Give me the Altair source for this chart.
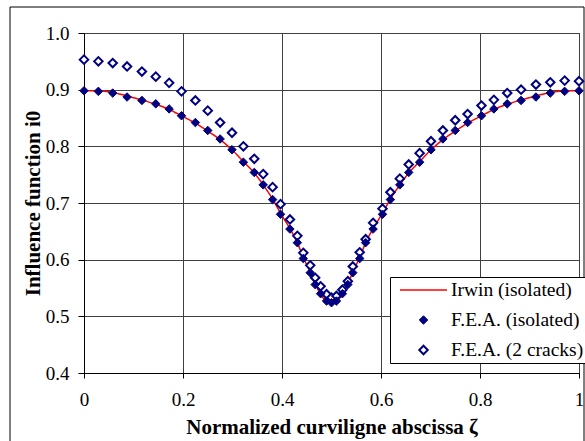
import altair as alt
import pandas as pd

# Normalized curvilinear abscissa (shared grid for all series)
zeta = [0.0, 0.029, 0.058, 0.087, 0.117, 0.145, 0.172, 0.197, 0.225, 0.25,
        0.275, 0.299, 0.322, 0.344, 0.362, 0.381, 0.397, 0.416, 0.431, 0.443,
        0.457, 0.467, 0.478, 0.490, 0.5, 0.510, 0.522, 0.533, 0.543, 0.557,
        0.569, 0.584, 0.603, 0.619, 0.638, 0.656, 0.678, 0.701, 0.725, 0.75,
        0.775, 0.803, 0.828, 0.855, 0.883, 0.913, 0.942, 0.971, 1.0]

irwin = [0.898, 0.898, 0.895, 0.889, 0.882, 0.874, 0.865, 0.854, 0.841, 0.827,
         0.812, 0.794, 0.773, 0.753, 0.732, 0.707, 0.682, 0.655, 0.630, 0.604,
         0.578, 0.557, 0.539, 0.526, 0.522, 0.526, 0.539, 0.557, 0.578, 0.604,
         0.630, 0.655, 0.682, 0.707, 0.732, 0.753, 0.773, 0.794, 0.812, 0.827,
         0.841, 0.854, 0.865, 0.874, 0.882, 0.889, 0.895, 0.898, 0.898]

fea_isolated = [0.898, 0.897, 0.894, 0.887, 0.881, 0.875, 0.866, 0.854, 0.842, 0.828,
                0.813, 0.794, 0.772, 0.754, 0.732, 0.706, 0.680, 0.654, 0.630, 0.602,
                0.577, 0.556, 0.540, 0.527, 0.524, 0.527, 0.540, 0.556, 0.577, 0.602,
                0.630, 0.654, 0.680, 0.706, 0.732, 0.754, 0.772, 0.794, 0.813, 0.828,
                0.842, 0.854, 0.866, 0.875, 0.881, 0.887, 0.894, 0.897, 0.898]

fea_2cracks = [0.953, 0.950, 0.947, 0.941, 0.932, 0.923, 0.912, 0.897, 0.881, 0.863,
               0.842, 0.824, 0.800, 0.778, 0.751, 0.728, 0.698, 0.671, 0.642, 0.612,
               0.590, 0.568, 0.553, 0.539, 0.533, 0.536, 0.547, 0.562, 0.588, 0.613,
               0.636, 0.665, 0.690, 0.719, 0.743, 0.768, 0.788, 0.809, 0.828, 0.846,
               0.857, 0.872, 0.882, 0.894, 0.900, 0.909, 0.913, 0.916, 0.915]

series_names = ["Irwin (isolated)", "F.E.A. (isolated)", "F.E.A. (2 cracks)"]
x_ticks = [0, 0.2, 0.4, 0.6, 0.8, 1]
y_ticks = [0.4, 0.5, 0.6, 0.7, 0.8, 0.9, 1.0]

line_df = pd.DataFrame({"zeta": zeta, "i0": irwin, "series": series_names[0]})
pts_df = pd.concat([
    pd.DataFrame({"zeta": zeta, "i0": fea_isolated, "series": series_names[1]}),
    pd.DataFrame({"zeta": zeta, "i0": fea_2cracks, "series": series_names[2]}),
], ignore_index=True)

FONT = "Liberation Serif"

x_enc = alt.X("zeta:Q",
              scale=alt.Scale(domain=[0, 1], nice=False, zero=False),
              axis=alt.Axis(values=x_ticks, format="~g", labelFlush=False,
                            title="Normalized curviligne abscissa ζ",
                            tickSize=5, labelPadding=12, titlePadding=7))
y_enc = alt.Y("i0:Q",
              scale=alt.Scale(domain=[0.4, 1.0], nice=False, zero=False),
              axis=alt.Axis(values=y_ticks, format=".1f", labelFlush=False,
                            title="Influence function i0",
                            tickSize=6, labelPadding=9, titlePadding=2))

legend = alt.Legend(title=None, orient="none", legendX=306, legendY=244,
                    fillColor="white", strokeColor="black", padding=3,
                    clipHeight=20, rowPadding=10, symbolOffset=6, labelOffset=3,
                    labelFont=FONT, labelFontSize=19.5, labelColor="black",
                    labelExpr="datum.label + '      '",
                    labelLimit=400, cornerRadius=0)

frame = alt.Chart(pd.DataFrame({"k": [0]})).mark_rect(
    fill="transparent", stroke="black", strokeWidth=1
).encode(x=alt.value(-74), x2=alt.value(500), y=alt.value(-26), y2=alt.value(430))

line = alt.Chart(line_df).mark_line(
    color="#ff0000", strokeWidth=1.5, interpolate="monotone"
).encode(x=x_enc, y=y_enc)

points = alt.Chart(pts_df).mark_point(opacity=1).encode(
    x=x_enc, y=y_enc,
    shape=alt.Shape("series:N", scale=alt.Scale(domain=series_names,
                    range=["stroke", "diamond", "diamond"]), legend=legend),
    stroke=alt.Stroke("series:N", scale=alt.Scale(domain=series_names,
                      range=["#ff0000", "#000080", "#000080"]), legend=legend),
    fill=alt.Fill("series:N", scale=alt.Scale(domain=series_names,
                  range=["#ff0000", "#000080", "#ffffff"]), legend=legend),
    size=alt.Size("series:N", scale=alt.Scale(type="ordinal", domain=series_names,
                  range=[2209, 72, 72]), legend=legend),
    strokeWidth=alt.StrokeWidth("series:N", scale=alt.Scale(type="ordinal", domain=series_names,
                                range=[1.5, 1, 2]), legend=legend),
    order=alt.Order("series:N", sort="ascending"),
)

chart = alt.layer(frame, line, points).properties(
    width=495, height=340,
    autosize=alt.AutoSizeParams(type="none"),
    padding={"left": 84, "top": 33, "right": 6, "bottom": 68},
    background="white",
).configure_view(
    stroke="black", strokeWidth=1
).configure_axis(
    labelFont=FONT, labelFontSize=19, labelColor="black",
    titleFont=FONT, titleFontSize=21, titleFontWeight="bold", titleColor="black",
    domainColor="black", tickColor="black", gridColor="#404040", gridWidth=1,
    grid=True, domainWidth=1,
)

chart.save("out.html", embed_options={"renderer": "svg", "actions": False})
